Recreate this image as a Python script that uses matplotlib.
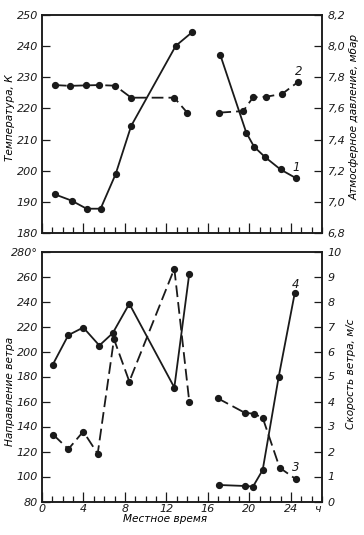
import matplotlib
matplotlib.use("Agg")
import matplotlib.pyplot as plt
from matplotlib.ticker import MultipleLocator, FixedLocator
import matplotlib.transforms as mtransforms

# ---------------- data ----------------
# Top panel: temperature (curve 1, K, left axis) and pressure (curve 2, mbar, right axis)
temp_t_a = [1.25, 2.85, 4.3, 5.65, 7.1, 8.6, 12.9, 14.45]
temp_a = [192.4, 190.4, 187.8, 187.8, 198.9, 214.4, 240.1, 244.4]
temp_t_b = [17.2, 19.7, 20.45, 21.5, 23.0, 24.5]
temp_b = [237.1, 212.2, 207.7, 204.4, 200.4, 197.6]

pres_t_a = [1.25, 2.7, 4.25, 5.45, 7.05, 8.6, 12.75, 14.0]
pres_a = [7.75, 7.745, 7.748, 7.75, 7.746, 7.669, 7.669, 7.573]
pres_t_b = [17.1, 19.4, 20.35, 21.6, 23.15, 24.65]
pres_b = [7.573, 7.583, 7.671, 7.675, 7.693, 7.768]

# Bottom panel: curve 4 (solid) and curve 3 (dashed)
c4_t_a = [1.03, 2.54, 3.98, 5.53, 6.82, 8.42, 12.76, 14.2]
c4_dir_a = [189.4, 213.1, 219.2, 204.8, 214.7, 238.2, 171.2, 262.2]
c4_t_b = [17.1, 19.6, 20.35, 21.28, 22.83, 24.37]
c4_spd_b = [0.66, 0.62, 0.60, 1.26, 5.0, 8.33]

c3_t_a = [1.09, 2.54, 3.98, 5.37, 6.94, 8.42, 12.76, 14.2]
c3_dir_a = [133.4, 121.9, 136.0, 118.2, 209.9, 176.0, 266.2, 160.0]
c3_t_b = [16.94, 19.55, 20.41, 21.28, 22.92, 24.49]
c3_spd_b = [4.13, 3.55, 3.51, 3.35, 1.35, 0.89]

temp_ticks = [180, 190, 200, 210, 220, 230, 240, 250]
pres_ticks = [6.8, 7.0, 7.2, 7.4, 7.6, 7.8, 8.0, 8.2]
dir_ticks = [80, 100, 120, 140, 160, 180, 200, 220, 240, 260, 280]
dir_labels = ["80", "100", "120", "140", "160", "180", "200", "220", "240", "260", "280°"]
spd_ticks = list(range(0, 11))
x_major = [0, 4, 8, 12, 16, 20, 24]

# ---------------- style ----------------
INK = "#1a1a1a"
plt.rcParams["font.family"] = ["DejaVu Sans"]
plt.rcParams["font.style"] = "italic"
plt.rcParams["font.size"] = 8
plt.rcParams["text.color"] = INK
plt.rcParams["axes.edgecolor"] = INK
plt.rcParams["xtick.color"] = INK
plt.rcParams["ytick.color"] = INK
plt.rcParams["axes.linewidth"] = 1.1

W, H = 364, 535
fig = plt.figure(figsize=(W / 100, H / 100), dpi=100)

def fr(l, t, r, b):
    return [l / W, 1 - b / H, (r - l) / W, (b - t) / H]

ax1 = fig.add_axes(fr(42, 15, 322, 233))
ax1r = ax1.twinx()
ax2 = fig.add_axes(fr(42, 251.5, 322, 501.5))
ax2r = ax2.twinx()

line_kw = dict(color=INK, lw=1.3, marker="o", ms=4.2, mfc=INK, mec=INK)
dash_kw = dict(line_kw, ls=(0, (6.5, 2.8)))

# top panel
ax1.plot(temp_t_a, temp_a, **line_kw)
ax1.plot(temp_t_b, temp_b, **line_kw)
ax1r.plot(pres_t_a, pres_a, **dash_kw)
ax1r.plot(pres_t_b, pres_b, **dash_kw)

# bottom panel
ax2.plot(c4_t_a, c4_dir_a, **line_kw)
ax2.plot(c3_t_a, c3_dir_a, **dash_kw)
ax2r.plot(c4_t_b, c4_spd_b, **line_kw)
ax2r.plot(c3_t_b, c3_spd_b, **dash_kw)

for ax in (ax1, ax2):
    ax.set_xlim(0, 27)
    ax.xaxis.set_major_locator(FixedLocator(x_major))
    ax.xaxis.set_minor_locator(MultipleLocator(1))
    ax.tick_params(axis="x", which="major", direction="in", length=7, width=0.9)
    ax.tick_params(axis="x", which="minor", direction="in", length=4.5, width=0.9)
    ax.tick_params(axis="y", which="both", direction="in", length=6, width=0.9, pad=3)

for ax in (ax1r, ax2r):
    ax.tick_params(axis="y", which="both", direction="in", length=6, width=0.9, pad=4)

ax1.set_ylim(180, 250)
ax1.set_yticks(temp_ticks)
ax1.set_xticklabels([])
ax1r.set_ylim(6.8, 8.2)
ax1r.set_yticks(pres_ticks)
ax1r.set_yticklabels([f"{v:.1f}".replace(".", ",") for v in pres_ticks])

ax2.set_ylim(80, 280)
ax2.set_yticks(dir_ticks)
ax2.set_yticklabels(dir_labels)
ax2.set_xticklabels([str(v) for v in x_major])
ax2.tick_params(axis="x", pad=2)
ax2r.set_ylim(0, 10)
ax2r.set_yticks(spd_ticks)

# axis labels
lab_fs = 7.6
ax1.set_ylabel("Температура, К", fontsize=lab_fs)
ax1.yaxis.set_label_coords(-0.098, 0.53)
ax1r.set_ylabel("Атмосферное давление, мбар", fontsize=lab_fs)
ax1r.yaxis.set_label_coords(1.10, 0.53)
ax2.set_ylabel("Направление ветра", fontsize=lab_fs)
ax2.yaxis.set_label_coords(-0.098, 0.44)
ax2r.set_ylabel("Скорость ветра, м/с", fontsize=lab_fs)
ax2r.yaxis.set_label_coords(1.085, 0.51)
ax2.set_xlabel("Местное время", fontsize=lab_fs)
ax2.xaxis.set_label_coords(0.44, -0.05)

# unit label "ч" at end of time axis
trans = mtransforms.blended_transform_factory(ax2.transData, ax2.transAxes)
ax2.text(26.6, -0.012, "ч", transform=trans, ha="center", va="top", fontsize=8)

# curve numbers
ax1r.text(24.75, 7.84, "2", ha="center", va="center", fontsize=8.5)
ax1.text(24.5, 200.9, "1", ha="center", va="center", fontsize=8.5)
ax2r.text(24.4, 8.7, "4", ha="center", va="center", fontsize=8.5)
ax2r.text(24.5, 1.37, "3", ha="center", va="center", fontsize=8.5)

fig.savefig("out.png", dpi=100, facecolor="white")
